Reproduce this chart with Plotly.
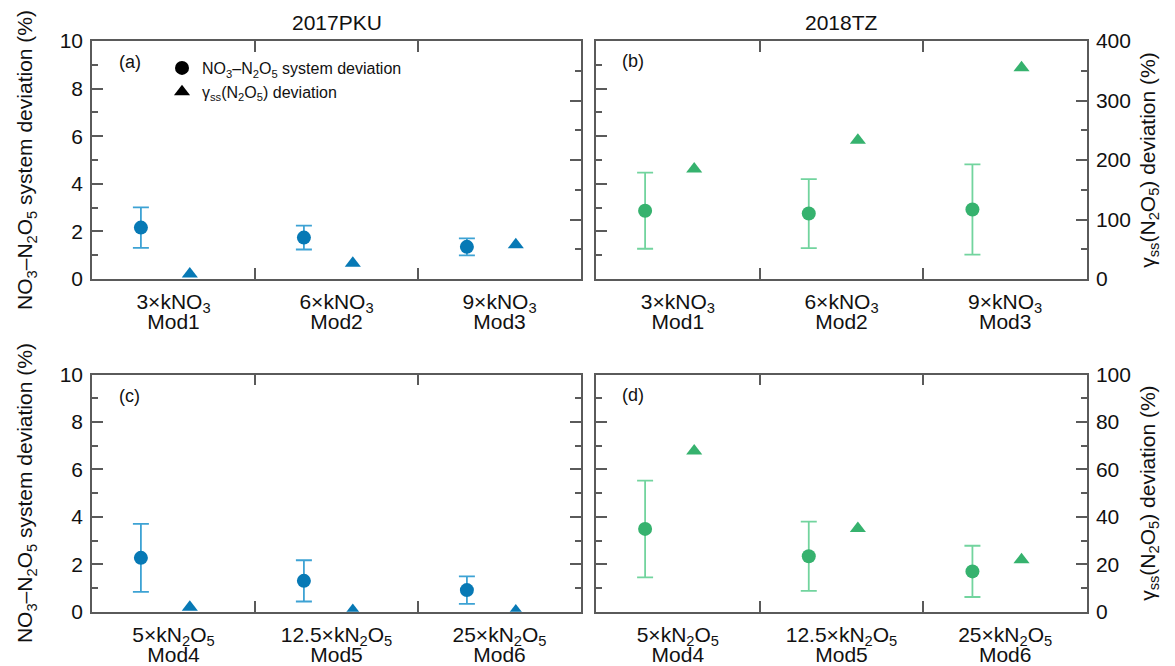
import numpy as np
import plotly.graph_objects as go

# ---------------- data ----------------
cats_kno3_l1 = ["3×kNO<sub>3</sub>", "6×kNO<sub>3</sub>", "9×kNO<sub>3</sub>"]
cats_kno3_l2 = ["Mod1", "Mod2", "Mod3"]
cats_kn2o5_l1 = ["5×kN<sub>2</sub>O<sub>5</sub>", "12.5×kN<sub>2</sub>O<sub>5</sub>",
                 "25×kN<sub>2</sub>O<sub>5</sub>"]
cats_kn2o5_l2 = ["Mod4", "Mod5", "Mod6"]

# (a) 2017PKU, Mod1-3
pku_sys_a = [2.16, 1.74, 1.35]
pku_sys_a_err = [0.85, 0.50, 0.36]
pku_gamma_a = [8.5, 26.6, 57.5]
# (b) 2018TZ, Mod1-3
tz_sys_b = [2.87, 2.75, 2.92]
tz_sys_b_err = [1.60, 1.45, 1.90]
tz_gamma_b = [185, 233, 355]
# (c) 2017PKU, Mod4-6
pku_sys_c = [2.27, 1.30, 0.91]
pku_sys_c_err = [1.43, 0.87, 0.58]
pku_gamma_c = [1.9, 0.5, 0.3]
# (d) 2018TZ, Mod4-6
tz_sys_d = [3.49, 2.34, 1.70]
tz_sys_d_err = [2.04, 1.46, 1.08]
tz_gamma_d = [67.7, 35.1, 21.9]

col_titles = ["2017PKU", "2018TZ"]
panel_tags = ["(a)", "(b)", "(c)", "(d)"]
left_title = "NO<sub>3</sub>–N<sub>2</sub>O<sub>5</sub> system deviation (%)"
right_title = "γ<sub>ss</sub>(N<sub>2</sub>O<sub>5</sub>) deviation (%)"
legend_names = ["NO<sub>3</sub>–N<sub>2</sub>O<sub>5</sub> system deviation",
                "γ<sub>ss</sub>(N<sub>2</sub>O<sub>5</sub>) deviation"]

# ---------------- style ----------------
W, H = 1175, 666
FONT = "Liberation Sans, Arial, Helvetica, sans-serif"
BLUE, BLUE_ERR = "#0779b5", "#3da2d4"
GREEN, GREEN_ERR = "#36b26e", "#72d49e"
LINE = "#5a5a5a"
TXT = "#111111"

xl = [92 / W, 581 / W]
xr = [596 / W, 1087 / W]
yt = [1 - 279 / H, 1 - 41 / H]
yb = [1 - 611.7 / H, 1 - 374.5 / H]

fig = go.Figure()
idx = np.arange(3)


def add_panel(xa, yl, yr, sys_v, sys_e, gam_v, mc, ec):
    fig.add_trace(go.Scatter(
        x=idx + 0.3, y=sys_v, mode="markers",
        marker=dict(symbol="circle", size=14, color=mc, line=dict(width=0)),
        error_y=dict(type="data", array=sys_e, color=ec, thickness=1.8, width=8),
        xaxis=xa, yaxis=yl, showlegend=False, hoverinfo="x+y"))
    fig.add_trace(go.Scatter(
        x=idx + 0.6, y=gam_v, mode="markers",
        marker=dict(symbol="triangle-up", size=14, color=mc, line=dict(width=0)),
        xaxis=xa, yaxis=yr, showlegend=False, hoverinfo="x+y"))


add_panel("x", "y", "y2", pku_sys_a, pku_sys_a_err, pku_gamma_a, BLUE, BLUE_ERR)
add_panel("x2", "y3", "y4", tz_sys_b, tz_sys_b_err, tz_gamma_b, GREEN, GREEN_ERR)
add_panel("x3", "y5", "y6", pku_sys_c, pku_sys_c_err, pku_gamma_c, BLUE, BLUE_ERR)
add_panel("x4", "y7", "y8", tz_sys_d, tz_sys_d_err, tz_gamma_d, GREEN, GREEN_ERR)

# second line of the category labels lives on label-only overlay x axes
for xa, ya in [("x5", "y"), ("x6", "y3"), ("x7", "y5"), ("x8", "y7")]:
    fig.add_trace(go.Scatter(x=[None], y=[None], mode="markers", xaxis=xa, yaxis=ya,
                             showlegend=False, hoverinfo="skip"))

# legend entries (black symbols)
fig.add_trace(go.Scatter(x=[None], y=[None], mode="markers", name=legend_names[0],
                         marker=dict(symbol="circle", size=14, color="black"),
                         xaxis="x", yaxis="y"))
fig.add_trace(go.Scatter(x=[None], y=[None], mode="markers", name=legend_names[1],
                         marker=dict(symbol="triangle-up", size=14, color="black"),
                         xaxis="x", yaxis="y"))

L1_STANDOFF = 3
L2_STANDOFF = 28


def xaxis(domain, anchor, cats):
    return dict(domain=domain, anchor=anchor, range=[0, 3], tickmode="array",
                tickvals=[0.5, 1.5, 2.5], ticktext=cats, ticks="inside", ticklen=0,
                showline=True, linecolor=LINE, linewidth=1.5, mirror="ticks",
                minor=dict(tickmode="array", tickvals=[1, 2], ticks="inside", ticklen=11,
                           tickwidth=1.5, tickcolor=LINE, showgrid=False),
                showgrid=False, zeroline=False, tickfont=dict(size=21, color=TXT),
                ticklabelstandoff=L1_STANDOFF, automargin=False, fixedrange=True)


def xaxis_l2(overlay, anchor, cats):
    return dict(overlaying=overlay, anchor=anchor, side="bottom", range=[0, 3],
                tickmode="array", tickvals=[0.5, 1.5, 2.5], ticktext=cats, ticks="",
                showline=False, showgrid=False, zeroline=False,
                tickfont=dict(size=21, color=TXT), ticklabelstandoff=L2_STANDOFF,
                automargin=False, fixedrange=True)


def yleft(domain, anchor, labels, title=None):
    d = dict(domain=domain, anchor=anchor, range=[0, 10], tickmode="linear", tick0=0, dtick=2,
             ticks="inside", ticklen=11, tickwidth=1.5, tickcolor=LINE,
             minor=dict(tickmode="linear", tick0=0, dtick=1, ticks="inside", ticklen=6,
                        tickwidth=1.5, tickcolor=LINE, showgrid=False),
             showline=True, linecolor=LINE, linewidth=1.5, showgrid=False, zeroline=False,
             showticklabels=labels, tickfont=dict(size=21, color=TXT), ticklabelstandoff=3,
             automargin=False, fixedrange=True)
    if title:
        d["title"] = dict(text=title, font=dict(size=21, color=TXT), standoff=21)
    return d


def yright(anchor, overlay, top, labels, title=None):
    d = dict(anchor=anchor, overlaying=overlay, side="right", range=[0, top],
             tickmode="linear", tick0=0, dtick=(100 if top == 400 else 20),
             ticks="inside", ticklen=11, tickwidth=1.5, tickcolor=LINE,
             minor=dict(tickmode="linear", tick0=0, dtick=(50 if top == 400 else 10),
                        ticks="inside", ticklen=6, tickwidth=1.5, tickcolor=LINE,
                        showgrid=False),
             showline=True, linecolor=LINE, linewidth=1.5, showgrid=False, zeroline=False,
             showticklabels=labels, tickfont=dict(size=21, color=TXT), ticklabelstandoff=3,
             automargin=False, fixedrange=True)
    if title:
        d["title"] = dict(text=title, font=dict(size=21, color=TXT), standoff=10)
    return d


fig.update_layout(
    width=W, height=H, autosize=False,
    margin=dict(l=0, r=0, t=0, b=0, pad=0),
    paper_bgcolor="white", plot_bgcolor="white",
    font=dict(family=FONT, color=TXT),
    xaxis=xaxis(xl, "y", cats_kno3_l1),
    xaxis2=xaxis(xr, "y3", cats_kno3_l1),
    xaxis3=xaxis(xl, "y5", cats_kn2o5_l1),
    xaxis4=xaxis(xr, "y7", cats_kn2o5_l1),
    xaxis5=xaxis_l2("x", "y", cats_kno3_l2),
    xaxis6=xaxis_l2("x2", "y3", cats_kno3_l2),
    xaxis7=xaxis_l2("x3", "y5", cats_kn2o5_l2),
    xaxis8=xaxis_l2("x4", "y7", cats_kn2o5_l2),
    yaxis=yleft(yt, "x", True, left_title),
    yaxis2=yright("x", "y", 400, False),
    yaxis3=yleft(yt, "x2", False),
    yaxis4=yright("x2", "y3", 400, True, right_title),
    yaxis5=yleft(yb, "x3", True, left_title),
    yaxis6=yright("x3", "y5", 100, False),
    yaxis7=yleft(yb, "x4", False),
    yaxis8=yright("x4", "y7", 100, True, right_title),
    showlegend=True,
    legend=dict(x=(183 - 21) / W, y=1 - 51 / H, xanchor="left", yanchor="top",
                bgcolor="rgba(0,0,0,0)", borderwidth=0, font=dict(size=16, color=TXT),
                itemwidth=30, tracegroupgap=0),
)

annos = [
    dict(text=col_titles[0], x=337 / W, y=1 - 22 / H, size=21, xa="center"),
    dict(text=col_titles[1], x=841 / W, y=1 - 22 / H, size=21, xa="center"),
    dict(text=panel_tags[0], x=117 / W, y=1 - 62 / H, size=18, xa="left"),
    dict(text=panel_tags[1], x=620 / W, y=1 - 61 / H, size=18, xa="left"),
    dict(text=panel_tags[2], x=117 / W, y=1 - 396 / H, size=18, xa="left"),
    dict(text=panel_tags[3], x=620 / W, y=1 - 395 / H, size=18, xa="left"),
]
for a in annos:
    fig.add_annotation(text=a["text"], x=a["x"], y=a["y"], xref="paper", yref="paper",
                       xanchor=a["xa"], yanchor="middle", showarrow=False,
                       font=dict(size=a["size"], color=TXT, family=FONT))

# remove the browser's default page margin so the figure sits at the window origin
fig.write_html("out.html", config={"displayModeBar": False},
               post_script="document.body.style.margin='0px';")
